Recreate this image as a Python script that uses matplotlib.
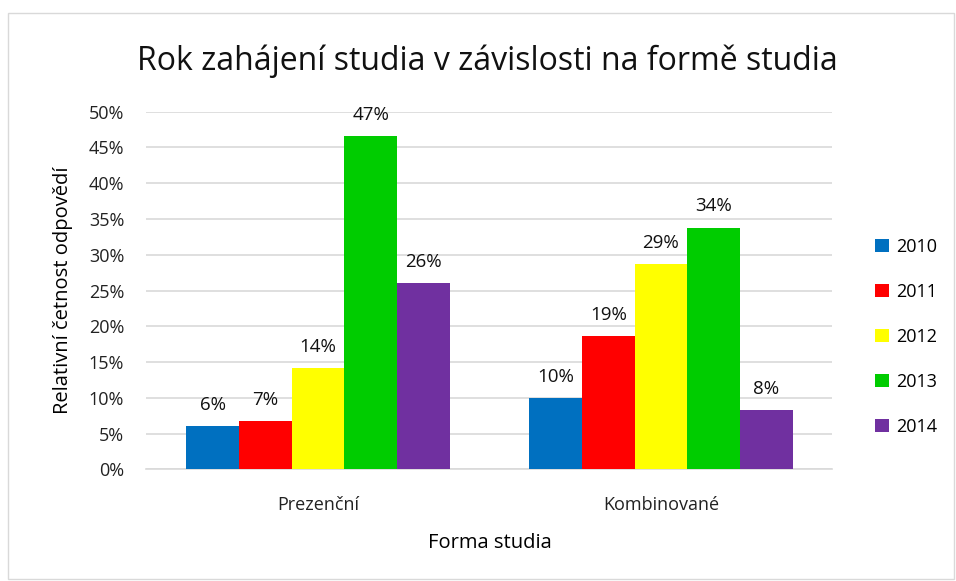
import matplotlib
matplotlib.use("Agg")
import matplotlib.pyplot as plt
import numpy as np
from matplotlib.patches import Rectangle
from matplotlib.ticker import PercentFormatter

categories = ["Prezenční", "Kombinované"]
years = ["2010", "2011", "2012", "2013", "2014"]
values = {
    "2010": [6.0, 10.0],
    "2011": [6.8, 18.6],
    "2012": [14.2, 28.7],
    "2013": [46.6, 33.8],
    "2014": [26.1, 8.3],
}
colors = ["#0070c0", "#ff0000", "#ffff00", "#00cc00", "#7030a0"]

plt.rcParams["font.family"] = ["Open Sans", "DejaVu Sans"]

fig = plt.figure(figsize=(9.56, 5.81), dpi=100)
ax = fig.add_axes([0.1532, 0.1922, 0.7176, 0.6155])

x = np.arange(len(categories))
w = 0.1534
for i, yr in enumerate(years):
    pos = x + (i - 2) * w
    bars = ax.bar(pos, values[yr], width=w, color=colors[i], label=yr, zorder=3)
    for b, v in zip(bars, values[yr]):
        ax.text(b.get_x() + b.get_width() / 2, v + 1.7, f"{round(v):.0f}%",
                ha="center", va="bottom", fontsize=13.5, color="#111111")

ax.set_xlim(-0.5, 1.5)
ax.set_ylim(0, 50)
ax.set_yticks(np.arange(0, 51, 5))
ax.yaxis.set_major_formatter(PercentFormatter(decimals=0))
ax.set_xticks(x)
ax.set_xticklabels(categories)
ax.tick_params(axis="both", length=0, labelsize=13, colors="#222222")
ax.tick_params(axis="x", pad=19)
ax.tick_params(axis="y", pad=16)
ax.grid(axis="y", color="#d9d9d9", linewidth=1.2, zorder=0)
for s in ["top", "right", "left"]:
    ax.spines[s].set_visible(False)
ax.spines["bottom"].set_color("#d9d9d9")
ax.spines["bottom"].set_linewidth(1.2)

ax.set_ylabel("Relativní četnost odpovědí", fontsize=14.5, labelpad=11)
ax.set_xlabel("Forma studia", fontsize=14.5, labelpad=14)
fig.text(0.51, 0.895, "Rok zahájení studia v závislosti na formě studia",
         ha="center", va="center", fontsize=23, color="#111111")

ax.legend(loc="center left", bbox_to_anchor=(0.908, 0.42),
          bbox_transform=fig.transFigure, frameon=False,
          fontsize=13, handlelength=0.75, handleheight=0.75, handletextpad=0.4,
          labelspacing=1.5, borderaxespad=0)

fig.patches.append(Rectangle((0.008, 0.003), 0.99, 0.975, transform=fig.transFigure,
                             fill=False, edgecolor="#d9d9d9", linewidth=1))

fig.savefig("out.png", dpi=100)
